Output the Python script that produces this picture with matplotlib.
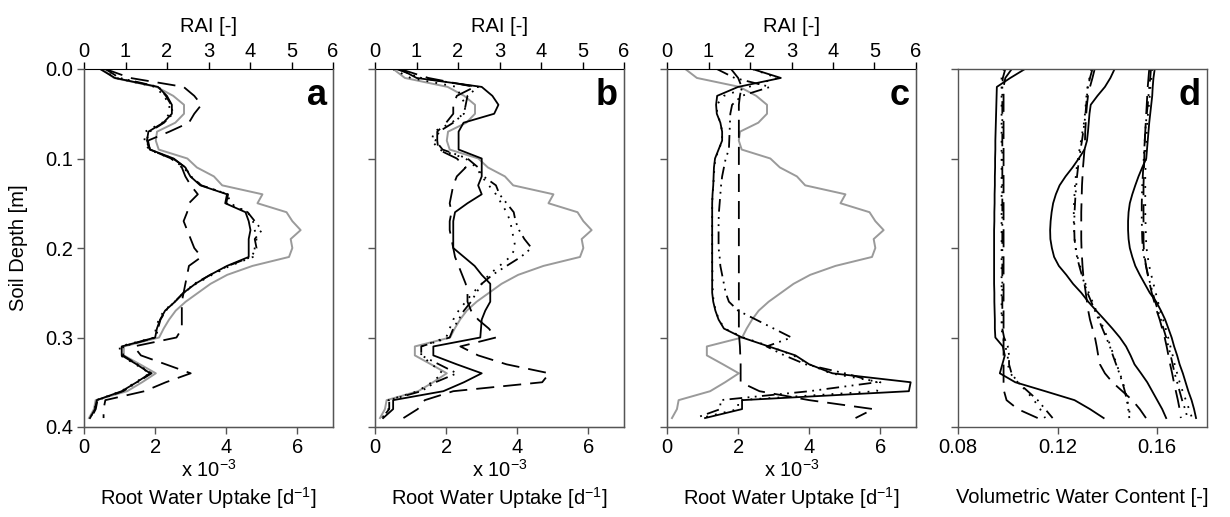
"""
Root water uptake / RAI / water content depth profiles (panels a-d).
"""

import matplotlib
matplotlib.use('Agg')
import matplotlib.pyplot as plt
from matplotlib.ticker import FormatStrFormatter

plt.rcParams['font.family'] = ['Liberation Sans', 'DejaVu Sans']
plt.rcParams['mathtext.fontset'] = 'custom'
plt.rcParams['mathtext.rm'] = 'Liberation Sans'
plt.rcParams['mathtext.it'] = 'Liberation Sans'
plt.rcParams['font.size'] = 14.5

# depth of each profile node [m]
depth = [0.00, 0.01, 0.02, 0.03, 0.04, 0.05, 0.06, 0.07, 0.08, 0.09,
         0.10, 0.11, 0.12, 0.13, 0.14, 0.15, 0.16, 0.17, 0.18, 0.19,
         0.20, 0.21, 0.22, 0.23, 0.24, 0.25, 0.26, 0.27, 0.28, 0.29,
         0.30, 0.31, 0.32, 0.33, 0.34, 0.35, 0.36, 0.37, 0.38, 0.39]

# root area index profile (grey, top axis), same in panels a-c
rai = [0.44, 0.72, 1.75, 2.15, 2.41, 2.41, 2.20, 1.76, 1.73, 1.80,
       2.49, 2.72, 3.13, 3.33, 4.30, 4.18, 4.88, 5.02, 5.22, 4.98,
       5.02, 4.94, 4.06, 3.45, 3.05, 2.75, 2.45, 2.21, 2.05, 1.92,
       1.81, 0.96, 0.96, 1.35, 1.73, 1.40, 1.04, 0.28, 0.24, 0.12]

# root water uptake [x 1e-3 d-1]
rwu_a_solid = [0.45, 0.87, 2.08, 2.33, 2.47, 2.47, 2.23, 1.81, 1.77, 1.86,
               2.52, 2.85, 2.99, 3.27, 4.02, 3.97, 4.54, 4.63, 4.68, 4.63,
               4.63, 4.63, 4.02, 3.55, 3.13, 2.80, 2.56, 2.28, 2.14, 2.05,
               2.00, 1.06, 1.06, 1.48, 1.86, 1.48, 1.06, 0.36, 0.31, 0.17]
rwu_a_dotted = [0.50, 0.90, 2.00, 2.25, 2.40, 2.40, 2.20, 1.72, 1.70, 1.82,
                2.45, 2.80, 3.00, 3.30, 4.05, 4.10, 4.60, 4.75, 4.80, 4.85,
                4.80, 4.75, 4.10, 3.60, 3.15, 2.80, 2.55, 2.25, 2.10, 2.02,
                1.98, 1.00, 1.02, 1.45, 1.85, 1.45, 1.05, 0.35, 0.30, 0.17]
rwu_a_dashdot = [0.60, 1.00, 2.10, 2.30, 2.45, 2.50, 2.25, 1.85, 1.75, 1.85,
                 2.50, 2.85, 3.00, 3.30, 4.05, 4.00, 4.60, 4.80, 5.00, 4.80,
                 4.85, 4.70, 4.05, 3.55, 3.10, 2.80, 2.55, 2.30, 2.15, 2.08,
                 2.02, 1.10, 1.10, 1.50, 1.90, 1.50, 1.10, 0.38, 0.33, 0.20]
rwu_a_dashed = [0.60, 1.30, 2.80, 3.10, 3.30, 3.10, 2.95, 2.40, 1.80, 1.85,
                2.45, 2.75, 2.85, 3.00, 3.20, 2.95, 2.90, 2.80, 2.90, 3.00,
                3.10, 3.30, 2.95, 2.90, 2.85, 2.80, 2.75, 2.75, 2.75, 2.75,
                2.60, 1.40, 1.60, 2.30, 3.00, 2.30, 1.70, 0.60, 0.55, 0.55]

rwu_b_solid = [0.70, 1.17, 3.00, 3.30, 3.47, 3.35, 2.49, 2.35, 2.35, 2.35,
               3.00, 3.00, 3.00, 2.90, 3.00, 2.60, 2.25, 2.20, 2.20, 2.20,
               2.20, 2.50, 2.80, 3.00, 3.24, 3.24, 3.24, 3.10, 3.00, 2.98,
               2.96, 1.64, 1.64, 2.30, 3.00, 2.50, 1.92, 0.51, 0.51, 0.23]
rwu_b_dotted = [0.50, 1.00, 2.30, 2.40, 2.55, 2.50, 2.15, 1.65, 1.60, 1.80,
                2.55, 2.85, 3.00, 3.20, 3.40, 3.55, 3.70, 3.80, 3.85, 3.90,
                3.95, 3.80, 3.50, 3.20, 3.00, 2.75, 2.55, 2.35, 2.20, 2.10,
                2.00, 1.30, 1.30, 1.60, 1.90, 1.60, 1.20, 0.38, 0.38, 0.20]
rwu_b_dashdot = [0.60, 1.30, 2.90, 2.60, 2.55, 2.50, 2.20, 1.80, 1.70, 1.90,
                 2.60, 2.90, 3.05, 3.40, 3.50, 3.70, 3.90, 3.95, 4.05, 4.20,
                 4.40, 4.10, 3.70, 3.30, 3.00, 2.85, 2.70, 2.50, 2.35, 2.20,
                 2.10, 1.30, 1.30, 1.80, 2.30, 1.70, 1.30, 0.40, 0.40, 0.20]
rwu_b_dashed = [0.70, 1.50, 2.80, 2.30, 2.20, 2.20, 2.00, 1.75, 1.75, 1.78,
                2.30, 2.55, 2.30, 2.20, 2.15, 2.10, 2.15, 2.10, 2.10, 2.15,
                2.20, 2.25, 2.35, 2.45, 2.55, 2.60, 2.60, 2.70, 2.90, 3.20,
                3.40, 2.40, 2.90, 3.70, 4.90, 4.70, 2.20, 1.40, 1.20, 0.80]

rwu_c_solid = [2.40, 3.20, 2.00, 1.41, 1.38, 1.40, 1.50, 1.55, 1.55, 1.45,
               1.35, 1.32, 1.31, 1.30, 1.28, 1.27, 1.27, 1.27, 1.27, 1.27,
               1.27, 1.27, 1.27, 1.27, 1.27, 1.27, 1.30, 1.36, 1.45, 1.60,
               2.11, 2.86, 3.61, 4.00, 4.65, 6.85, 6.80, 2.11, 2.11, 1.07]
rwu_c_dotted = [2.40, 3.10, 2.30, 1.60, 1.40, 1.41, 1.50, 1.55, 1.55, 1.46,
                1.36, 1.33, 1.32, 1.30, 1.28, 1.27, 1.27, 1.27, 1.27, 1.27,
                1.27, 1.27, 1.27, 1.28, 1.28, 1.29, 1.31, 1.37, 1.46, 1.62,
                2.15, 2.90, 3.55, 4.00, 4.60, 6.00, 5.90, 2.00, 2.00, 0.95]
rwu_c_dashdot = [1.40, 1.90, 2.90, 2.10, 1.83, 1.78, 1.77, 1.76, 1.75, 1.74,
                 1.65, 1.60, 1.55, 1.52, 1.50, 1.48, 1.46, 1.45, 1.45, 1.45,
                 1.45, 1.48, 1.50, 1.55, 1.60, 1.65, 1.74, 2.00, 2.50, 3.00,
                 3.50, 2.80, 3.30, 3.90, 5.00, 5.90, 4.00, 1.50, 1.50, 0.80]
rwu_c_dashed = [1.80, 2.00, 2.10, 2.05, 2.02, 2.02, 2.02, 2.02, 2.02, 2.02,
                2.02, 2.02, 2.02, 2.02, 2.02, 2.02, 2.02, 2.02, 2.02, 2.02,
                2.02, 2.02, 2.02, 2.02, 2.02, 2.02, 2.02, 2.02, 2.02, 2.02,
                2.03, 2.05, 2.06, 2.07, 2.07, 2.07, 2.60, 4.00, 5.80, 5.30]

# volumetric water content, three dates, four line styles each
vwc_1_solid = [0.1069, 0.1010, 0.0956, 0.0955, 0.0954, 0.0953, 0.0952, 0.0951, 0.0950, 0.0950,
               0.0949, 0.0949, 0.0948, 0.0948, 0.0947, 0.0947, 0.0946, 0.0946, 0.0945, 0.0945,
               0.0945, 0.0945, 0.0945, 0.0945, 0.0945, 0.0946, 0.0946, 0.0947, 0.0948, 0.0948,
               0.0950, 0.0980, 0.0988, 0.0978, 0.0968, 0.1030, 0.1150, 0.1268, 0.1330, 0.1385]
vwc_1_dotted = [0.0985, 0.0975, 0.0975, 0.0975, 0.0975, 0.0975, 0.0975, 0.0975, 0.0975, 0.0975,
                0.0975, 0.0975, 0.0975, 0.0975, 0.0975, 0.0975, 0.0975, 0.0975, 0.0975, 0.0975,
                0.0975, 0.0975, 0.0975, 0.0975, 0.0975, 0.0975, 0.0975, 0.0975, 0.0975, 0.0975,
                0.0980, 0.0990, 0.1000, 0.1000, 0.1010, 0.1040, 0.1075, 0.1105, 0.1130, 0.1150]
vwc_1_dashdot = [0.0990, 0.0980, 0.0978, 0.0978, 0.0978, 0.0978, 0.0978, 0.0978, 0.0978, 0.0978,
                 0.0978, 0.0978, 0.0978, 0.0978, 0.0978, 0.0978, 0.0978, 0.0978, 0.0978, 0.0978,
                 0.0978, 0.0978, 0.0978, 0.0978, 0.0978, 0.0978, 0.0978, 0.0978, 0.0978, 0.0978,
                 0.0985, 0.1000, 0.1005, 0.1005, 0.1015, 0.1040, 0.1080, 0.1120, 0.1150, 0.1180]
vwc_1_dashed = [0.1016, 0.0990, 0.0983, 0.0983, 0.0983, 0.0983, 0.0983, 0.0983, 0.0983, 0.0983,
                0.0983, 0.0983, 0.0983, 0.0983, 0.0983, 0.0983, 0.0983, 0.0983, 0.0983, 0.0983,
                0.0983, 0.0983, 0.0983, 0.0983, 0.0983, 0.0983, 0.0983, 0.0983, 0.0983, 0.0983,
                0.0983, 0.0983, 0.0983, 0.0983, 0.0983, 0.0983, 0.0985, 0.0995, 0.1040, 0.1120]

vwc_2_solid = [0.1429, 0.1412, 0.1390, 0.1360, 0.1333, 0.1328, 0.1325, 0.1322, 0.1318, 0.1308,
               0.1285, 0.1260, 0.1232, 0.1208, 0.1193, 0.1182, 0.1176, 0.1172, 0.1170, 0.1171,
               0.1177, 0.1186, 0.1205, 0.1235, 0.1262, 0.1295, 0.1323, 0.1355, 0.1388, 0.1420,
               0.1450, 0.1475, 0.1493, 0.1509, 0.1535, 0.1560, 0.1580, 0.1600, 0.1620, 0.1636]
vwc_2_dotted = [0.1335, 0.1328, 0.1320, 0.1316, 0.1313, 0.1310, 0.1306, 0.1300, 0.1294, 0.1288,
                0.1282, 0.1277, 0.1273, 0.1270, 0.1268, 0.1266, 0.1265, 0.1265, 0.1266, 0.1268,
                0.1273, 0.1280, 0.1290, 0.1300, 0.1312, 0.1325, 0.1340, 0.1355, 0.1370, 0.1385,
                0.1400, 0.1413, 0.1425, 0.1437, 0.1450, 0.1462, 0.1472, 0.1480, 0.1487, 0.1492]
vwc_2_dashdot = [0.1340, 0.1330, 0.1322, 0.1318, 0.1315, 0.1312, 0.1308, 0.1303, 0.1298, 0.1292,
                 0.1287, 0.1282, 0.1278, 0.1275, 0.1272, 0.1270, 0.1268, 0.1267, 0.1267, 0.1268,
                 0.1272, 0.1278, 0.1287, 0.1297, 0.1308, 0.1320, 0.1335, 0.1350, 0.1365, 0.1380,
                 0.1395, 0.1410, 0.1422, 0.1435, 0.1448, 0.1460, 0.1470, 0.1478, 0.1484, 0.1488]
vwc_2_dashed = [0.1349, 0.1340, 0.1330, 0.1322, 0.1318, 0.1315, 0.1313, 0.1311, 0.1310, 0.1308,
                0.1305, 0.1302, 0.1300, 0.1298, 0.1297, 0.1296, 0.1295, 0.1295, 0.1295, 0.1295,
                0.1296, 0.1298, 0.1300, 0.1303, 0.1308, 0.1313, 0.1318, 0.1323, 0.1330, 0.1340,
                0.1350, 0.1357, 0.1363, 0.1370, 0.1390, 0.1420, 0.1460, 0.1500, 0.1530, 0.1555]

vwc_3_solid = [0.1590, 0.1585, 0.1582, 0.1580, 0.1576, 0.1572, 0.1568, 0.1565, 0.1562, 0.1559,
               0.1556, 0.1540, 0.1525, 0.1512, 0.1500, 0.1490, 0.1485, 0.1483, 0.1483, 0.1485,
               0.1490, 0.1500, 0.1512, 0.1530, 0.1550, 0.1570, 0.1596, 0.1615, 0.1632, 0.1645,
               0.1658, 0.1668, 0.1680, 0.1690, 0.1703, 0.1714, 0.1725, 0.1738, 0.1748, 0.1756]
vwc_3_dotted = [0.1580, 0.1577, 0.1573, 0.1570, 0.1567, 0.1563, 0.1560, 0.1558, 0.1556, 0.1555,
                0.1554, 0.1553, 0.1552, 0.1552, 0.1552, 0.1552, 0.1552, 0.1553, 0.1554, 0.1555,
                0.1557, 0.1562, 0.1568, 0.1576, 0.1585, 0.1594, 0.1603, 0.1613, 0.1624, 0.1634,
                0.1644, 0.1653, 0.1662, 0.1670, 0.1680, 0.1690, 0.1702, 0.1715, 0.1728, 0.1740]
vwc_3_dashdot = [0.1575, 0.1572, 0.1568, 0.1565, 0.1562, 0.1558, 0.1555, 0.1552, 0.1550, 0.1548,
                 0.1546, 0.1544, 0.1542, 0.1540, 0.1539, 0.1538, 0.1538, 0.1538, 0.1539, 0.1540,
                 0.1542, 0.1547, 0.1555, 0.1563, 0.1572, 0.1582, 0.1592, 0.1603, 0.1615, 0.1625,
                 0.1636, 0.1645, 0.1654, 0.1662, 0.1670, 0.1680, 0.1690, 0.1700, 0.1712, 0.1722]
vwc_3_dashed = [0.1568, 0.1565, 0.1562, 0.1560, 0.1558, 0.1556, 0.1554, 0.1552, 0.1550, 0.1549,
                0.1548, 0.1547, 0.1546, 0.1545, 0.1545, 0.1545, 0.1545, 0.1545, 0.1545, 0.1545,
                0.1546, 0.1550, 0.1555, 0.1562, 0.1570, 0.1578, 0.1588, 0.1598, 0.1610, 0.1620,
                0.1630, 0.1638, 0.1645, 0.1652, 0.1660, 0.1667, 0.1675, 0.1683, 0.1690, 0.1695]

panel_letters = ['a', 'b', 'c', 'd']
rwu_ticks = [0, 2, 4, 6]
rai_ticks = [0, 1, 2, 3, 4, 5, 6]
depth_ticks = [0.0, 0.1, 0.2, 0.3, 0.4]
vwc_ticks = [0.08, 0.12, 0.16]

styles = {
    'solid': '-',
    'dotted': (0, (1, 4)),
    'dashdot': (0, (7, 3, 1, 3, 1, 3)),
    'dashed': (0, (10, 5)),
}
SPINE = '#555555'
GREY = '#9a9a9a'


def style_depth_axis(ax, show_labels):
    ax.set_ylim(0.4, 0.0)
    ax.set_yticks(depth_ticks)
    ax.yaxis.set_major_formatter(FormatStrFormatter('%.1f'))
    ax.tick_params(axis='y', direction='out', length=5, width=1, pad=3,
                   labelleft=show_labels, right=False, color=SPINE)
    ax.tick_params(axis='x', direction='out', length=5, width=1, pad=3,
                   top=False, color=SPINE)
    for s in ax.spines.values():
        s.set_color(SPINE)
        s.set_linewidth(1.0)


fig = plt.figure(figsize=(12.3, 5.17), dpi=100)
lefts = [84 / 1230, 375 / 1230, 667 / 1230, 958 / 1230]
width = 249 / 1230
bottom = 90 / 517
height = 358 / 517

rwu_sets = [
    (rwu_a_solid, rwu_a_dotted, rwu_a_dashdot, rwu_a_dashed),
    (rwu_b_solid, rwu_b_dotted, rwu_b_dashdot, rwu_b_dashed),
    (rwu_c_solid, rwu_c_dotted, rwu_c_dashdot, rwu_c_dashed),
]

for i in range(3):
    ax = fig.add_axes([lefts[i], bottom, width, height])
    ax2 = ax.twiny()
    # keep the grey RAI profile underneath the black lines
    ax.set_zorder(ax2.get_zorder() + 1)
    ax.patch.set_visible(False)

    ax2.plot(rai, depth, color=GREY, lw=1.4)
    ax2.set_xlim(0, 6)
    ax2.set_xticks(rai_ticks)
    ax2.tick_params(axis='x', direction='out', length=5, width=1, pad=1, color='black')
    ax2.set_xlabel('RAI [-]', labelpad=7)
    ax2.spines['top'].set_color('black')

    for vals, key in zip(rwu_sets[i], ['solid', 'dotted', 'dashdot', 'dashed']):
        ax.plot(vals, depth, color='black', lw=1.3, ls=styles[key])
    ax.set_xlim(0, 7)
    ax.set_xticks(rwu_ticks)
    style_depth_axis(ax, show_labels=(i == 0))
    ax.spines['top'].set_visible(False)

    ax.text(0.5, -0.12, r'x 10$^{-3}$', transform=ax.transAxes,
            ha='center', va='center')
    ax.set_xlabel(r'Root Water Uptake [d$^{-1}$]')
    ax.xaxis.set_label_coords(0.5, -0.198)
    ax.xaxis.label.set_va('center')
    ax.text(0.975, 0.975, panel_letters[i], transform=ax.transAxes,
            ha='right', va='top', fontsize=26, fontweight='bold')
    if i == 0:
        ax.set_ylabel('Soil Depth [m]')
        ax.yaxis.set_label_coords(-0.265, 0.5)
        ax.yaxis.label.set_va('center')

# panel d: volumetric water content
ax = fig.add_axes([lefts[3], bottom, width, height])
vwc_sets = [
    (vwc_1_solid, vwc_1_dotted, vwc_1_dashdot, vwc_1_dashed),
    (vwc_2_solid, vwc_2_dotted, vwc_2_dashdot, vwc_2_dashed),
    (vwc_3_solid, vwc_3_dotted, vwc_3_dashdot, vwc_3_dashed),
]
for group in vwc_sets:
    for vals, key in zip(group, ['solid', 'dotted', 'dashdot', 'dashed']):
        ax.plot(vals, depth, color='black', lw=1.3, ls=styles[key])
ax.set_xlim(0.08, 0.18)
ax.set_xticks(vwc_ticks)
ax.xaxis.set_major_formatter(FormatStrFormatter('%.2f'))
style_depth_axis(ax, show_labels=False)
ax.set_xlabel('Volumetric Water Content [-]')
ax.xaxis.set_label_coords(0.5, -0.198)
ax.xaxis.label.set_va('center')
ax.text(0.975, 0.975, panel_letters[3], transform=ax.transAxes,
        ha='right', va='top', fontsize=26, fontweight='bold')

fig.savefig('out.png', dpi=100)
